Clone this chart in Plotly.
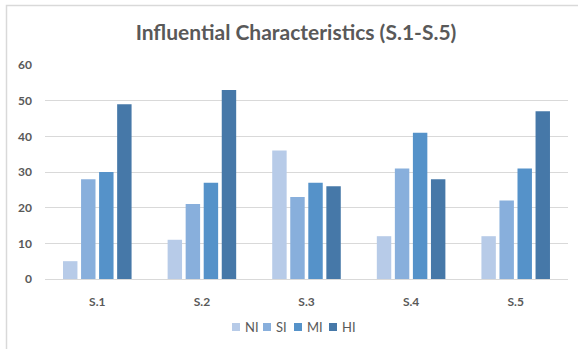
import plotly.graph_objects as go

# Survey items and response levels
categories = ["S.1", "S.2", "S.3", "S.4", "S.5"]
ni_values = [5, 11, 36, 12, 12]
si_values = [28, 21, 23, 31, 22]
mi_values = [30, 27, 27, 41, 31]
hi_values = [49, 53, 26, 28, 47]

series_names = ["NI", "SI", "MI", "HI"]
series_values = [ni_values, si_values, mi_values, hi_values]
series_colors = ["#B7CBE8", "#88AFDC", "#5592C9", "#4678A8"]

y_ticks = [0, 10, 20, 30, 40, 50, 60]

W, H = 578, 349
ML, MR, MT, MB = 45, 10, 65, 70
PW, PH = W - ML - MR, H - MT - MB
FONT = "Lato"
GRAY = "#595959"
tick_font = dict(family=FONT, size=12, color=GRAY, weight="bold")


def px_x(px):
    return (px - ML) / PW


def px_y(py):
    return (H - MB - py) / PH


fig = go.Figure()
for name, vals, col in zip(series_names, series_values, series_colors):
    fig.add_trace(go.Bar(
        name=name, x=categories, y=vals,
        marker=dict(color=col, line=dict(width=0)),
        showlegend=False,
    ))

# Compact key below the axis: small square swatch followed by its label
shapes = [dict(
    type="rect", xref="paper", yref="paper",
    x0=px_x(6.5), x1=1.2, y0=-0.5, y1=px_y(5.5),
    line=dict(color="#D9D9D9", width=1.5), fillcolor="rgba(0,0,0,0)",
    layer="below",
)]
annotations = []
key_left = [232, 263, 294, 329]
key_cy = 327
for name, col, left in zip(series_names, series_colors, key_left):
    shapes.append(dict(
        type="rect", xref="paper", yref="paper",
        x0=px_x(left), x1=px_x(left + 8),
        y0=px_y(key_cy + 4), y1=px_y(key_cy - 4),
        line=dict(width=0), fillcolor=col,
    ))
    annotations.append(dict(
        text=name, xref="paper", yref="paper",
        x=px_x(left + 12), y=px_y(key_cy), xanchor="left", yanchor="middle",
        showarrow=False, borderpad=0,
        font=dict(family=FONT, size=13, color=GRAY),
    ))

fig.update_layout(
    width=W, height=H,
    margin=dict(l=ML, r=MR, t=MT, b=MB),
    paper_bgcolor="white", plot_bgcolor="white",
    barmode="group", bargap=0.31, bargroupgap=0.2,
    font=dict(family=FONT, color=GRAY, size=12),
    title=dict(
        text="Influential Characteristics (S.1-S.5)",
        x=296 / W, xanchor="center", y=1 - 33 / H, yanchor="middle",
        font=dict(family=FONT, size=21, color=GRAY, weight="bold"),
    ),
    showlegend=False,
    xaxis=dict(
        showgrid=False, showline=True, linecolor="#D9D9D9", linewidth=1,
        ticks="", tickfont=tick_font, ticklabelstandoff=12,
    ),
    yaxis=dict(
        range=[0, 60], tickvals=y_ticks, showgrid=True, gridcolor="#D9D9D9",
        gridwidth=1, zeroline=False, showline=False, ticks="",
        tickfont=tick_font, ticklabelstandoff=12,
    ),
    shapes=shapes,
    annotations=annotations,
)

fig.write_html("out.html")
